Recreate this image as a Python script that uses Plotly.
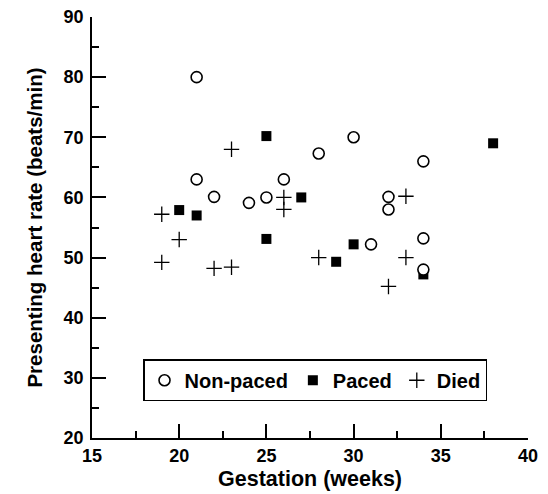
import plotly.graph_objects as go

# Non-paced (open circles)
nonpaced_x = [21, 30, 28, 34, 21, 26, 22, 24, 25, 32, 32, 34, 31, 34]
nonpaced_y = [80, 70, 67.3, 66, 63, 63, 60.1, 59.1, 60, 60.1, 58, 53.2, 52.2, 48]

# Paced (filled squares)
paced_x = [25, 38, 27, 20, 21, 25, 30, 29, 34]
paced_y = [70.2, 69, 60, 57.9, 57, 53.1, 52.2, 49.3, 47.2]

# Died (plus)
died_x = [23, 26, 26, 19, 20, 19, 22, 23, 28, 33, 33, 32]
died_y = [68, 60, 58, 57.2, 53, 49.2, 48.2, 48.4, 50, 60.2, 50, 45.2]

FONT = "Liberation Sans, Arial, sans-serif"

fig = go.Figure()
fig.add_trace(go.Scatter(
    x=paced_x, y=paced_y, mode="markers", name="Paced", legendrank=2,
    marker=dict(symbol="square", size=10, color="black", line=dict(width=0))))
fig.add_trace(go.Scatter(
    x=died_x, y=died_y, mode="markers", name="Died", legendrank=3,
    marker=dict(symbol="cross-thin-open", size=11, color="black",
                line=dict(width=1.3, color="black"))))
fig.add_trace(go.Scatter(
    x=nonpaced_x, y=nonpaced_y, mode="markers", name="Non-paced", legendrank=1,
    marker=dict(symbol="circle", size=11, color="white",
                line=dict(width=1.6, color="black"))))

axis_common = dict(
    showgrid=False, zeroline=False, showline=True, linecolor="black", linewidth=1.5,
    ticks="inside", ticklen=14, tickwidth=1.5, tickcolor="black",
    tickfont=dict(family=FONT, size=18, color="black", weight="bold"),
)

fig.update_xaxes(
    range=[15, 40], tick0=15, dtick=5, ticklabelstandoff=1,
    minor=dict(ticks="inside", ticklen=7, tickwidth=1.5, tickcolor="black", dtick=2.5, tick0=15),
    title=dict(text="Gestation (weeks)", font=dict(family=FONT, size=21.5, color="black", weight="bold"),
               standoff=6),
    **axis_common)
fig.update_yaxes(
    range=[20, 90], tick0=20, dtick=10, ticklabelstandoff=3,
    minor=dict(ticks="inside", ticklen=7, tickwidth=1.5, tickcolor="black", dtick=5, tick0=20),
    title=dict(text="Presenting heart rate (beats/min)",
               font=dict(family=FONT, size=20.5, color="black", weight="bold"), standoff=15),
    **axis_common)

fig.update_layout(
    width=548, height=494,
    margin=dict(l=92, r=20, t=17, b=56, autoexpand=False),
    plot_bgcolor="white", paper_bgcolor="white",
    showlegend=True,
    legend=dict(
        orientation="h", x=0.117, y=0.187, xanchor="left", yanchor="top",
        bgcolor="white", bordercolor="black", borderwidth=1.5,
        font=dict(family=FONT, size=20, color="black", weight="bold"),
        itemwidth=30, tracegroupgap=0,
    ),
)

fig.write_html("out.html", config={"displayModeBar": False},
               post_script="document.body.style.margin='0';document.body.style.overflow='hidden';")
